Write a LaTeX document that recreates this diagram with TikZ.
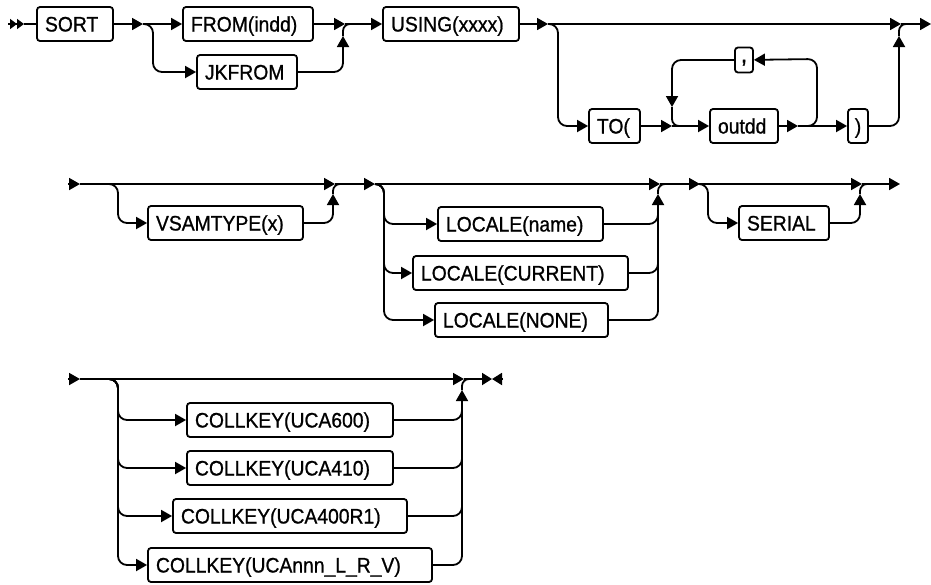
\documentclass[tikz,border=0pt]{standalone}
\usepackage{fontspec}
\setmainfont{Liberation Sans}
\newfontfamily\kwf{Liberation Sans}[FakeStretch=0.92, BoldFont=Liberation Sans, BoldFeatures={FakeBold=0.9, FakeStretch=0.92}]
\usetikzlibrary{arrows.meta}
\tikzset{
  ln/.style={line width=1.8pt, line join=round},
  rr/.style={rounded corners=9pt},
  rs/.style={rounded corners=7pt},
  tip/.style={-{Triangle[length=11pt,width=12pt]}},
  etip/.style={-{Triangle[length=10pt,width=12pt]}},
  dtip/.style={-{Triangle[length=7pt,width=10pt]Triangle[length=7pt,width=10pt]}},
  kw/.style={draw, line width=1.8pt, rounded corners=3pt, minimum height=34pt,
    inner xsep=8pt, inner ysep=0pt, align=left,
    font=\kwf\bfseries\fontsize{21}{24}\selectfont, text height=15pt, text depth=0pt},
  kwc/.style={kw, align=center, inner xsep=0pt},
}
\begin{document}
\begin{tikzpicture}[x=1pt, y=-1pt]
\useasboundingbox (0,0) rectangle (931,584);

% ---------------- Row 1 ----------------
\node[kw, text width=60pt]  (sort)  at (75,24)    {SORT};
\node[kw, text width=114pt] (from)  at (248,24)   {FROM(indd)};
\node[kw, text width=84pt]  (jk)    at (247,72)   {JKFROM};
\node[kw, text width=120pt] (using) at (451,24)   {USING(xxxx)};
\node[kw, text width=35pt]  (to)    at (614.5,126) {TO(};
\node[kw, text width=52pt]  (outdd) at (744,126)  {outdd};
\node[kwc, minimum width=18pt, minimum height=25pt] (comma) at (744,60) {\raisebox{5pt}{\fontsize{25}{25}\selectfont,}};
\node[kwc, minimum width=20pt] (rp) at (858,126) {)};

\coordinate (s0) at (8,24);
\coordinate (s1) at (24,24);
\coordinate (j1) at (143,24);
\coordinate (v1) at (153,72);
\coordinate (m1t) at (345,24);
\coordinate (m1up) at (343,36);
\coordinate (m1r) at (353,24);
\coordinate (j2) at (548,24);
\coordinate (v2) at (558,126);
\coordinate (m2t) at (901,24);
\coordinate (m2up) at (899,36);
\coordinate (m2r) at (909,24);
\coordinate (eR) at (931,24);
\coordinate (l0) at (672,126);
\coordinate (l1) at (798,126);
\coordinate (v3) at (817,59);
\coordinate (v4) at (672,107);
\coordinate (v4r) at (684,126);

\draw[ln, dtip] (s0) -- (s1);
\draw[ln] (s1) -- (sort);
\draw[ln, tip] (sort) -- (j1);
\draw[ln, tip] (j1) -- (from);
\draw[ln, tip, rr] (j1) -| (v1) -- (jk);
\draw[ln, tip] (from) -- (m1t);
\draw[ln, tip, rr] (jk) -| (m1up);
\draw[ln, rs] (m1up) |- (m1r);
\draw[ln, tip] (m1t) -- (using);
\draw[ln, tip] (using) -- (j2);
\draw[ln, tip] (j2) -- (m2t);
\draw[ln, tip] (m2t) -- (eR);
\draw[ln, tip, rr] (j2) -| (v2) -- (to);
\draw[ln, tip] (to) -- (l0);
\draw[ln, tip] (l0) -- (outdd);
\draw[ln, tip] (outdd) -- (l1);
\draw[ln, tip] (l1) -- (rp);
\draw[ln, tip, rr] (l1) -| (v3) -- (comma);
\draw[ln, tip, rr] (comma) -| (v4);
\draw[ln, rs] (v4) |- (v4r);
\draw[ln, tip, rr] (rp) -| (m2up);
\draw[ln, rs] (m2up) |- (m2r);

% ---------------- Row 2 ----------------
\node[kw, text width=139pt] (vsam)   at (225.5,223) {VSAMTYPE(x)};
\node[kw, text width=149pt] (lname)  at (520.5,224) {LOCALE(name)};
\node[kw, text width=199pt] (lcur)   at (520.5,273) {LOCALE(CURRENT)};
\node[kw, text width=157pt] (lnone)  at (521.5,320) {LOCALE(NONE)};
\node[kw, text width=74pt]  (serial) at (784,223)   {SERIAL};

\coordinate (r2s) at (68,184);
\coordinate (r2a) at (80,184);
\coordinate (v5) at (118,223);
\coordinate (m3t) at (335,184);
\coordinate (m3up) at (333,194);
\coordinate (m3r) at (343,184);
\coordinate (j4) at (375,184);
\coordinate (v6) at (384,224);
\coordinate (v7) at (384,273);
\coordinate (v8) at (384,320);
\coordinate (m4t) at (660,184);
\coordinate (m4up) at (658,194);
\coordinate (m4lo) at (658,200);
\coordinate (m4r) at (668,184);
\coordinate (j5) at (700,184);
\coordinate (v9) at (708,223);
\coordinate (m5t) at (862,184);
\coordinate (m5up) at (860,194);
\coordinate (m5r) at (870,184);
\coordinate (r2e) at (900,184);

\draw[ln, tip] (r2s) -- (r2a);
\draw[ln, tip] (r2a) -- (m3t);
\draw[ln, tip, rr] (r2a) -| (v5) -- (vsam);
\draw[ln, tip, rr] (vsam) -| (m3up);
\draw[ln, rs] (m3up) |- (m3r);
\draw[ln, tip] (m3t) -- (j4);
\draw[ln, tip] (j4) -- (m4t);
\draw[ln, tip, rr] (j4) -| (v6) -- (lname);
\draw[ln, tip, rr] (j4) -| (v7) -- (lcur);
\draw[ln, tip, rr] (j4) -| (v8) -- (lnone);
\draw[ln, rr] (lnone) -| (m4lo);
\draw[ln, rr] (lcur) -| (m4lo);
\draw[ln, tip, rr] (lname) -| (m4up);
\draw[ln, rs] (m4up) |- (m4r);
\draw[ln, tip] (m4t) -- (j5);
\draw[ln, tip] (j5) -- (m5t);
\draw[ln, tip, rr] (j5) -| (v9) -- (serial);
\draw[ln, tip, rr] (serial) -| (m5up);
\draw[ln, rs] (m5up) |- (m5r);
\draw[ln, tip] (m5t) -- (r2e);

% ---------------- Row 3 ----------------
\node[kw, text width=190pt] (ck1) at (290,420) {COLLKEY(UCA600)};
\node[kw, text width=190pt] (ck2) at (290,468) {COLLKEY(UCA410)};
\node[kw, text width=218pt] (ck3) at (290,516) {COLLKEY(UCA400R1)};
\node[kw, text width=268pt] (ck4) at (290,565) {COLLKEY(UCAnnn\_L\_R\_V)};

\coordinate (r3s) at (68,379);
\coordinate (r3a) at (80,379);
\coordinate (w1) at (118,420);
\coordinate (w2) at (118,468);
\coordinate (w3) at (118,516);
\coordinate (w4) at (118,565);
\coordinate (m6t) at (464,379);
\coordinate (m6up) at (462,390);
\coordinate (m6lo) at (462,396);
\coordinate (m6r) at (472,379);
\coordinate (e1) at (492,379);
\coordinate (e2) at (503,379);

\draw[ln, tip] (r3s) -- (r3a);
\draw[ln, tip] (r3a) -- (m6t);
\draw[ln, tip, rr] (r3a) -| (w1) -- (ck1);
\draw[ln, tip, rr] (r3a) -| (w2) -- (ck2);
\draw[ln, tip, rr] (r3a) -| (w3) -- (ck3);
\draw[ln, tip, rr] (r3a) -| (w4) -- (ck4);
\draw[ln, rr] (ck4) -| (m6lo);
\draw[ln, rr] (ck3) -| (m6lo);
\draw[ln, rr] (ck2) -| (m6lo);
\draw[ln, tip, rr] (ck1) -| (m6up);
\draw[ln, rs] (m6up) |- (m6r);
\draw[ln, etip] (m6t) -- (e1);
\draw[ln, etip] (e2) -- (e1);
\end{tikzpicture}
\end{document}
